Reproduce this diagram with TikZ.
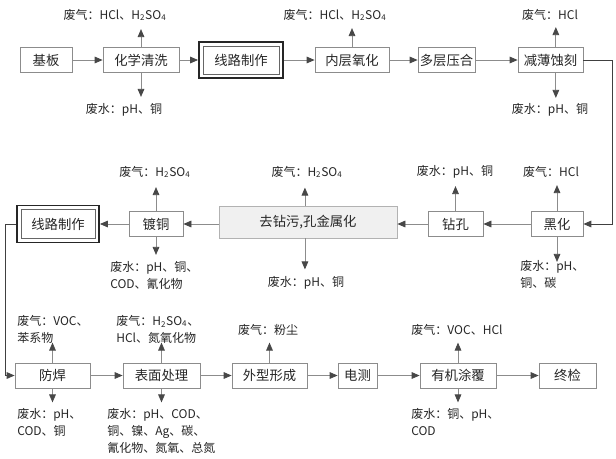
\documentclass[tikz,border=0pt]{standalone}
\usepackage{fontspec}
\setmainfont{Noto Sans CJK SC}
\usetikzlibrary{arrows.meta}
\begin{document}
\begin{tikzpicture}[x=0.75pt,y=-0.75pt,
  box/.style={draw=black!45, line width=0.6pt, minimum height=18.75pt, inner sep=0pt,
    font=\fontsize{10}{12}\selectfont, text=black!85},
  dbox/.style={draw=black!85, line width=1.4pt, inner sep=0pt,
    font=\fontsize{10}{12}\selectfont, text=black!85},
  lab/.style={font=\fontsize{9}{12.75}\selectfont, inner sep=0pt, text=black!85, align=left},
  flow/.style={draw=black!45, line width=0.6pt, -{Triangle[length=6pt,width=5pt,color=black!72]}},
  conn/.style={draw=black!75, line width=0.7pt, -{Triangle[length=6pt,width=5pt,color=black!72]}}]
\useasboundingbox[fill=white] (0,0) rectangle (616,458);

% ---------- Row 1 ----------
\node[box, minimum width=39pt] (jb) at (46,60) {基板};
\node[box, minimum width=57pt] (qx) at (141,60) {化学清洗};
\node[dbox, minimum width=63pt, minimum height=27pt] (lz1) at (241,60) {线路制作};
\draw[black!60, line width=0.5pt] ([xshift=3.7pt,yshift=3.7pt]lz1.south west) rectangle ([xshift=-3.7pt,yshift=-3.7pt]lz1.north east);
\node[box, minimum width=55.5pt] (nc) at (352,60) {内层氧化};
\node[box, minimum width=42.75pt] (dc) at (446.5,60) {多层压合};
\node[box, minimum width=48.75pt] (jbs) at (550.5,60) {减薄蚀刻};

\draw[flow] (jb.east) -- (qx.west);
\draw[flow] (qx.east) -- (lz1.west);
\draw[flow] (lz1.east) -- (nc.west);
\draw[flow] (nc.east) -- (dc.west);
\draw[flow] (dc.east) -- (jbs.west);

\node[lab] (g1) at (115,15) {废气：HCl、H\textsubscript{2}SO\textsubscript{4}};
\node[lab] (g2) at (335,15) {废气：HCl、H\textsubscript{2}SO\textsubscript{4}};
\node[lab] (g3) at (550,15) {废气：HCl};
\node[lab] (w1) at (124,110) {废水：pH、铜};
\node[lab] (w2) at (550,110) {废水：pH、铜};
\draw[flow] (qx.north) -- ++(0,-18);
\draw[flow] (qx.south) -- ++(0,24);
\draw[flow] (nc.north) -- ++(0,-19);
\draw[flow] ([xshift=4pt]jbs.north) -- ++(0,-20);
\draw[flow] ([xshift=4pt]jbs.south) -- ++(0,25);

% ---------- Row 2 ----------
\node[dbox, minimum width=61.5pt, minimum height=27.75pt] (lz2) at (58,224) {线路制作};
\draw[black!60, line width=0.5pt] ([xshift=3.7pt,yshift=3.7pt]lz2.south west) rectangle ([xshift=-3.7pt,yshift=-3.7pt]lz2.north east);
\node[box, minimum width=40.5pt] (dt) at (156,224) {镀铜};
\node[box, minimum width=133.5pt, minimum height=24pt, fill=black!6, draw=black!30] (qz) at (308,222) {去钻污,孔金属化};
\node[box, minimum width=41.25pt] (zk) at (455.5,224) {钻孔};
\node[box, minimum width=39pt] (hh) at (557,224) {黑化};

\coordinate (r1) at (612,60);
\draw[conn] (jbs.east) -- (r1) |- (hh.east);
\draw[flow] (hh.west) -- (zk.east);
\draw[flow] (zk.west) -- (zk.west -| qz.east);
\draw[flow] (dt.east -| qz.west) -- (dt.east);
\draw[flow] (dt.west) -- (lz2.west -| lz2.east);

\node[lab] (g4) at (155,172) {废气：H\textsubscript{2}SO\textsubscript{4}};
\node[lab] (g5) at (307,172) {废气：H\textsubscript{2}SO\textsubscript{4}};
\node[lab] (w5) at (455,172) {废水：pH、铜};
\node[lab] (g6) at (551,172) {废气：HCl};
\node[lab, anchor=north west] (w3) at (110,261) {废水：pH、铜、\\COD、氰化物};
\node[lab] (w4) at (306,283) {废水：pH、铜};
\node[lab, anchor=north west] (w6) at (520,260) {废水：pH、\\铜、碳};
\draw[flow] (dt.north) -- ++(0,-24);
\draw[flow] (dt.south) -- ++(0,18);
\draw[flow] ([xshift=-2.3pt]qz.north) -- ++(0,-18);
\draw[flow] ([xshift=-2.3pt]qz.south) -- ++(0,31);
\draw[flow] (zk.north) -- ++(0,-25);
\draw[flow] (hh.north) -- ++(0,-26);
\draw[flow] (hh.south) -- ++(0,25);

% ---------- Row 3 ----------
\node[box, minimum width=56.25pt] (fh) at (52.5,375.5) {防焊};
\node[box, minimum width=57.75pt] (bm) at (161.5,375.5) {表面处理};
\node[box, minimum width=56.25pt] (wx) at (269.5,375.5) {外型形成};
\node[box, minimum width=29.25pt] (dc2) at (357.5,375.5) {电测};
\node[box, minimum width=57pt] (yj) at (458,375.5) {有机涂覆};
\node[box, minimum width=42.75pt] (zj) at (567.5,375.5) {终检};

\coordinate (l1) at (5,224);
\draw[conn] (lz2.west) -- (l1) |- (fh.west);
\draw[flow] (fh.east) -- (bm.west);
\draw[flow] (bm.east) -- (wx.west);
\draw[flow] (wx.east) -- (dc2.west);
\draw[flow] (dc2.east) -- (yj.west);
\draw[flow] (yj.east) -- (zj.west);

\node[lab, anchor=north west] (g7) at (17,315) {废气：VOC、\\苯系物};
\node[lab, anchor=north west] (g8) at (116,315) {废气：H\textsubscript{2}SO\textsubscript{4}、\\HCl、氮氧化物};
\node[lab] (g9) at (268,330) {废气：粉尘};
\node[lab] (g10) at (457,330) {废气：VOC、HCl};
\node[lab, anchor=north west] (w7) at (17,408) {废水：pH、\\COD、铜};
\node[lab, anchor=north west] (w8) at (107,408) {废水：pH、COD、\\铜、镍、Ag、碳、\\氰化物、氮氧、总氮};
\node[lab, anchor=north west] (w9) at (411,408) {废水：铜、pH、\\COD};
\draw[flow] (fh.north) -- ++(0,-20);
\draw[flow] (fh.south) -- ++(0,14);
\draw[flow] (bm.north) -- ++(0,-20);
\draw[flow] (bm.south) -- ++(0,14);
\draw[flow] (wx.north) -- ++(0,-20);
\draw[flow] (yj.north) -- ++(0,-20);
\draw[flow] (yj.south) -- ++(0,14);
\end{tikzpicture}
\end{document}
